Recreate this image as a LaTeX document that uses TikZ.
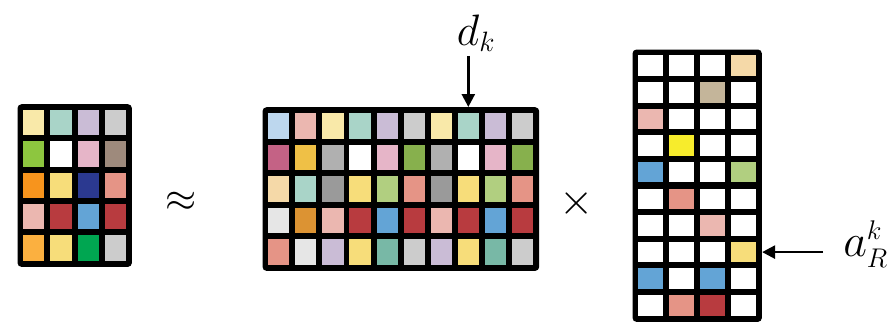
\RequirePackage{fix-cm}
\documentclass[tikz,border=0pt]{standalone}
\usepackage{amsmath}
\usetikzlibrary{arrows.meta,positioning}
\definecolor{lemon}{HTML}{F9E9A9}
\definecolor{mint}{HTML}{A9D4C8}
\definecolor{lilac}{HTML}{CABCD6}
\definecolor{silver}{HTML}{CCCCCC}
\definecolor{leaf}{HTML}{8DC63F}
\definecolor{rose}{HTML}{E6B5C8}
\definecolor{taupe}{HTML}{9E8A7C}
\definecolor{tang}{HTML}{F7941D}
\definecolor{butter}{HTML}{F7DD7A}
\definecolor{navy}{HTML}{2B3990}
\definecolor{salmon}{HTML}{E59486}
\definecolor{blush}{HTML}{EBB7B0}
\definecolor{brick}{HTML}{B83B3F}
\definecolor{sky}{HTML}{63A4D6}
\definecolor{amber}{HTML}{FBB040}
\definecolor{emerald}{HTML}{00A651}
\definecolor{ice}{HTML}{BDD7EE}
\definecolor{plum}{HTML}{C46285}
\definecolor{gold}{HTML}{EFC046}
\definecolor{ash}{HTML}{B0B0B0}
\definecolor{olive}{HTML}{87B04D}
\definecolor{peach}{HTML}{F5D9A8}
\definecolor{stone}{HTML}{9A9A9A}
\definecolor{sage}{HTML}{B1CF80}
\definecolor{mist}{HTML}{E6E6E6}
\definecolor{ochre}{HTML}{DC9333}
\definecolor{teal}{HTML}{78B8A6}
\definecolor{sand}{HTML}{C4B59A}
\definecolor{lime}{HTML}{F7EC2C}
\DeclareMathSizes{44}{44}{28}{22}
\DeclareMathSizes{46}{46}{27}{22}

\begin{document}
\begin{tikzpicture}[x=1pt,y=-1pt,
  matbox/.style={fill=black,rounded corners=4pt,inner sep=0pt,anchor=north west},
  cell/.style={fill=#1,inner sep=0pt},
  lcell/.style={cell=#1,minimum width=21.1pt,minimum height=25.3pt},
  mcell/.style={cell=#1,minimum width=21.1pt,minimum height=25.5pt},
  rcell/.style={cell=#1,minimum width=24.9pt,minimum height=20.6pt},
  arr/.style={line width=2.6pt,-{Triangle[length=13pt,width=13pt]}},
  sym/.style={inner sep=0pt,font=\fontsize{44}{50}\selectfont},
  lbl/.style={inner sep=0pt}
]
  \useasboundingbox (0,0) rectangle (889,324);
  % left matrix
  \node[matbox,minimum width=114.4pt,minimum height=162.7pt] (L) at (17.3,104) {};
  \foreach \row [count=\r] in {{lemon,mint,lilac,silver},{leaf,white,rose,taupe},
      {tang,butter,navy,salmon},{blush,brick,sky,brick},{amber,butter,emerald,silver}}
    \foreach \col [count=\c] in \row
      \node[lcell=\col] (L-\r-\c) at ({20.3+(\c-0.5)*27.1},{107+(\r-0.5)*31.34}) {};
  % middle matrix
  \node[matbox,minimum width=276.7pt,minimum height=163.7pt] (M) at (262.3,107) {};
  \foreach \row [count=\r] in {
      {ice,blush,lemon,mint,lilac,silver,lemon,mint,lilac,silver},
      {plum,gold,ash,white,rose,olive,ash,white,rose,olive},
      {peach,mint,stone,butter,sage,salmon,stone,butter,sage,salmon},
      {mist,ochre,blush,brick,sky,brick,blush,brick,sky,brick},
      {salmon,mist,lilac,butter,teal,silver,lilac,butter,teal,silver}}
    \foreach \col [count=\c] in \row
      \node[mcell=\col] (M-\r-\c) at ({265.3+(\c-0.5)*27.07},{110+(\r-0.5)*31.54}) {};
  % right matrix
  \node[matbox,minimum width=129.4pt,minimum height=272.4pt] (R) at (632.3,49.3) {};
  \foreach \row [count=\r] in {{white,white,white,peach},{white,white,sand,white},
      {blush,white,white,white},{white,lime,white,white},{sky,white,white,sage},
      {white,salmon,white,white},{white,white,blush,white},{white,white,white,butter},
      {sky,white,sky,white},{white,salmon,brick,white}}
    \foreach \col [count=\c] in \row
      \node[rcell=\col] (R-\r-\c) at ({635.3+(\c-0.5)*30.85},{52.3+(\r-0.5)*26.64}) {};
  % operators
  \node[sym,font=\fontsize{40}{48}\selectfont] (approx) at (181,202) {$\approx$};
  \node[sym] (times) at (577,203) {$\times$};
  % labels
  \node[lbl,anchor=base,font=\fontsize{44}{50}\selectfont] (dk) at (476,45) {$d_k$};
  \draw[arr,shorten <=4pt] (M-1-8 |- dk.south) -- (M-1-8 |- M.north);
  \node[lbl,anchor=east,font=\fontsize{46}{52}\selectfont] (ak) at (888,244) {$a_R^k$};
  \draw[arr,shorten <=20pt] (ak.west |- R-8-4) -- (R.east |- R-8-4);
\end{tikzpicture}
\end{document}
